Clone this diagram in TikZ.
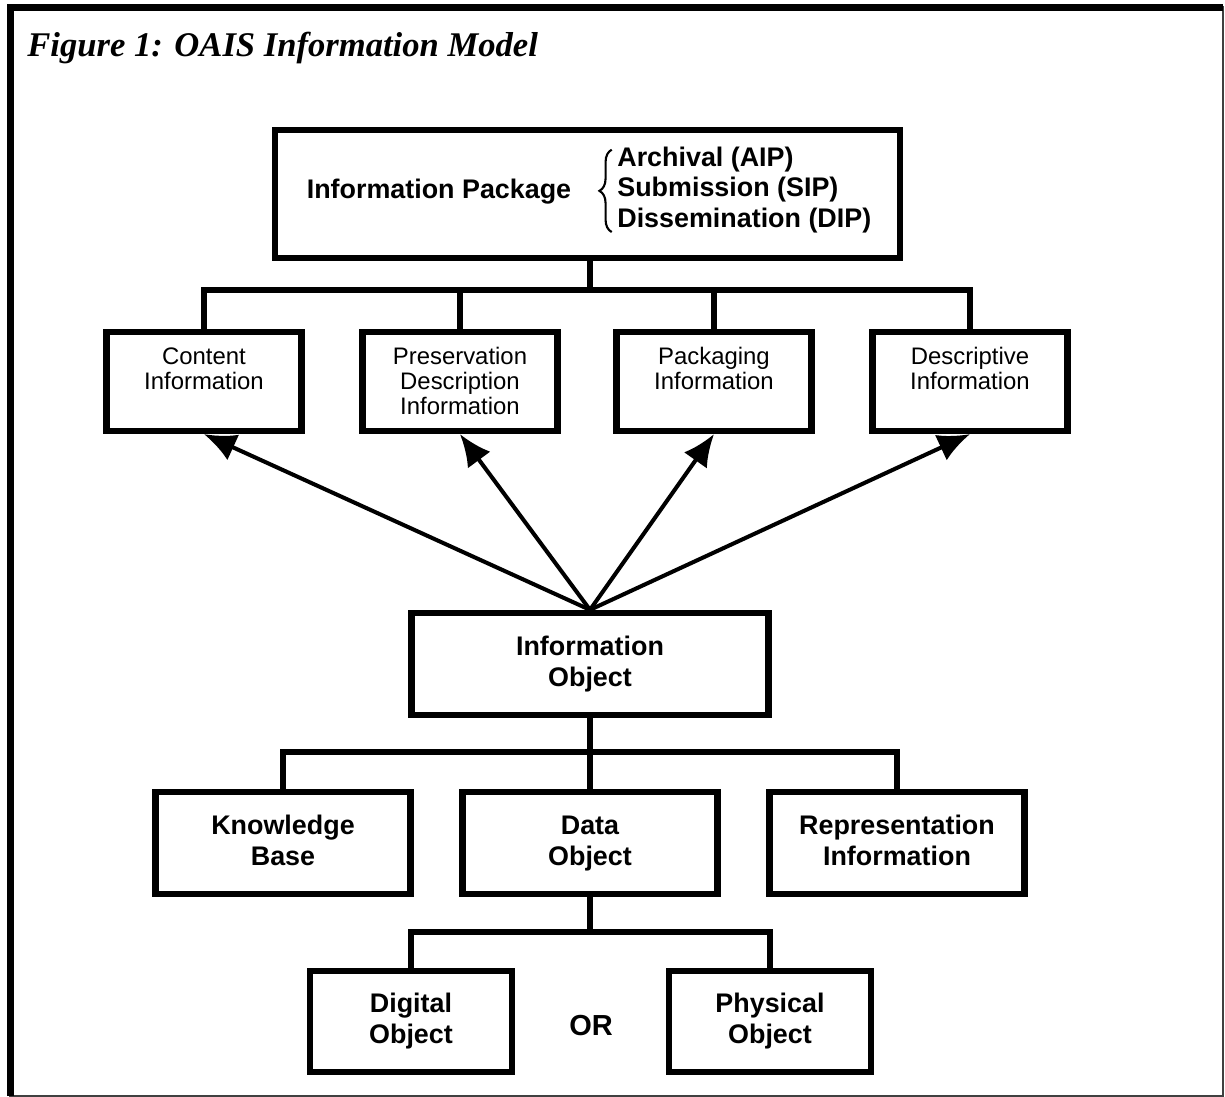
\documentclass[tikz,border=0pt]{standalone}
\usepackage{fontspec}
\setmainfont{Liberation Sans}
\newfontfamily\titlefont{Liberation Serif}
\usepackage{tikz}
\usetikzlibrary{arrows.meta}
\usetikzlibrary{decorations.pathreplacing}

\begin{document}
\begin{tikzpicture}[x=0.02cm,y=-0.02cm]
	\useasboundingbox (0,0) rectangle (1225,1097);
	\tikzstyle{box}=[draw,line width=3.6pt,fill=white,inner sep=0pt,align=center]
	\tikzstyle{conn}=[line width=3pt]
	\tikzstyle{arr}=[line width=2.3pt,-{Latex[length=0.64cm,width=0.56cm]}]
	\tikzstyle{brc}=[line width=1.2pt,decorate,decoration={brace,amplitude=7pt}]
	\tikzstyle{bold}=[font=\bfseries\fontsize{15.3}{17.6}\selectfont]
	\tikzstyle{twoline}=[bold,text height=28.6pt,text depth=3.2pt]
	\tikzstyle{plain}=[font=\fontsize{13.6}{14.2}\selectfont]
	\tikzstyle{plaintwo}=[plain,text height=23.8pt,text depth=14.2pt]
	\tikzstyle{plainthree}=[plain,text height=38pt,text depth=0pt]
	\draw[line width=1.1pt,draw=black!75] (10,7) rectangle (1223,1096);
	\draw[line width=3.6pt] (10.5,1096) -- (10.5,7.5) -- (1223,7.5);
	\node[anchor=base west,inner sep=0pt,font=\titlefont\bfseries\itshape\fontsize{19.7}{23}\selectfont] (ttl) at (27,57) {Figure 1: OAIS Information Model};
	\tikzstyle{every node}=[box,bold];
	\node[minimum width=12.5cm,minimum height=2.56cm] (ip) at (587.5,194) {};
	\tikzstyle{every node}=[inner sep=0pt,bold];
	\node (iptxt) at (439,192) {Information Package};
	\node[anchor=west,align=left] (iptypes) at (617,190) {Archival (AIP)\\Submission (SIP)\\Dissemination (DIP)};
	\draw[brc] ([xshift=-3pt,yshift=1pt]iptypes.south west) -- ([xshift=-3pt,yshift=-2pt]iptypes.north west);
	\tikzstyle{every node}=[box,minimum width=3.9cm,minimum height=1.98cm];
	\node[plaintwo] (ci) at (204,381.5) {Content\\Information};
	\node[plainthree] (pd) at (460,381.5) {Preservation\\Description\\Information};
	\node[plaintwo] (pk) at (714,381.5) {Packaging\\Information};
	\node[plaintwo] (di) at (970,381.5) {Descriptive\\Information};
	\tikzstyle{every node}=[box,twoline];
	\node[minimum width=7.14cm,minimum height=2.04cm] (io) at (590,664) {Information\\Object};
	\tikzstyle{every node}=[box,twoline,minimum width=5.1cm,minimum height=2.04cm];
	\node (kb) at (283,843) {Knowledge\\Base};
	\node (do) at (590,843) {Data\\Object};
	\node (ri) at (897,843) {Representation\\Information};
	\tikzstyle{every node}=[box,twoline,minimum width=4.04cm,minimum height=2.02cm];
	\node (dg) at (411,1021.5) {Digital\\Object};
	\node (ph) at (770,1021.5) {Physical\\Object};
	\tikzstyle{every node}=[inner sep=0pt];
	\node[font=\bfseries\fontsize{16.5}{20}\selectfont] (or) at (591,1026) {OR};
	\coordinate (ja) at (590,290);
	\coordinate (jb) at (590,752);
	\coordinate (jc) at (590,932);
	\draw[conn] (ja |- ip.south) -- (ja);
	\draw[conn] (ci.north) |- (ja) -| (di.north);
	\draw[conn] (pd.north) -- (pd.north |- ja);
	\draw[conn] (pk.north) -- (pk.north |- ja);
	\draw[arr] (io.north) -- (ci.south);
	\draw[arr] (io.north) -- (pd.south);
	\draw[arr] (io.north) -- (pk.south);
	\draw[arr] (io.north) -- (di.south);
	\draw[conn] (io.south) -- (jb);
	\draw[conn] (kb.north) |- (jb) -| (ri.north);
	\draw[conn] (jb) -- (do.north);
	\draw[conn] (do.south) -- (jc);
	\draw[conn] (dg.north) |- (jc) -| (ph.north);
\end{tikzpicture}
\end{document}
